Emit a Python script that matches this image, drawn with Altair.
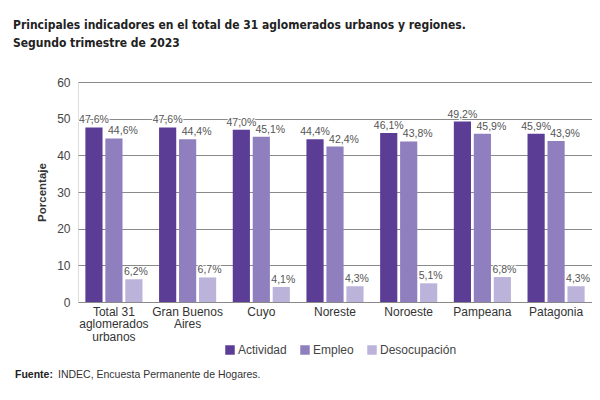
import json
import altair as alt
import pandas as pd

# ---- data ----
categories = ["Total 31 aglomerados urbanos", "Gran Buenos Aires", "Cuyo",
              "Noreste", "Noroeste", "Pampeana", "Patagonia"]
category_lines = [["Total 31", "aglomerados", "urbanos"], ["Gran Buenos", "Aires"],
                  ["Cuyo"], ["Noreste"], ["Noroeste"], ["Pampeana"], ["Patagonia"]]
series = ["Actividad", "Empleo", "Desocupación"]
actividad = [47.6, 47.6, 47.0, 44.4, 46.1, 49.2, 45.9]
empleo = [44.6, 44.4, 45.1, 42.4, 43.8, 45.9, 43.9]
desocupacion = [6.2, 6.7, 4.1, 4.3, 5.1, 6.8, 4.3]
y_ticks = [0, 10, 20, 30, 40, 50, 60]
colors = ["#5b3d96", "#8f7fbf", "#bbb3da"]
label_dx = [0, 9, 2]
title_lines = ["Principales indicadores en el total de 31 aglomerados urbanos y regiones.",
               "Segundo trimestre de 2023"]
source_bold = ["Fuente:"]
source_text = ["INDEC, Encuesta Permanente de Hogares."]

rows = []
for s, vals in zip(series, [actividad, empleo, desocupacion]):
    for c, v in zip(categories, vals):
        rows.append({"region": c, "indicador": s, "valor": v,
                     "etiqueta": f"{v:.1f}%".replace(".", ",")})
df = pd.DataFrame(rows)

label_expr = ""
for c, l in zip(categories, category_lines):
    label_expr += f"datum.value == {json.dumps(c)} ? {json.dumps(l)} : "
label_expr += "datum.value"

FONT = "Liberation Sans"

x = alt.X("region:N", sort=categories,
          scale=alt.Scale(paddingInner=0.225, paddingOuter=0.1),
          axis=alt.Axis(title=None, labelAngle=0, domain=False, ticks=False,
                        labelPadding=4, labelFontSize=12, labelLineHeight=12.5,
                        labelColor="#333333", labelExpr=label_expr, labelBaseline="top"))
xo = alt.XOffset("indicador:N", sort=series,
                 scale=alt.Scale(domain=series, paddingInner=0.14, paddingOuter=0))
y = alt.Y("valor:Q", scale=alt.Scale(domain=[0, 60]),
          axis=alt.Axis(values=y_ticks, title="Porcentaje", titleFontSize=11.5,
                        titleFontWeight="bold", titleColor="#333333", titlePadding=9,
                        domain=False, ticks=False, labelPadding=8,
                        gridColor="#8a8a8a", gridWidth=1,
                        labelColor="#444444", labelFontSize=12))
color = alt.Color("indicador:N", sort=series,
                  scale=alt.Scale(domain=series, range=colors),
                  legend=alt.Legend(title=None, orient="none", legendX=146, legendY=262,
                                    direction="horizontal", symbolType="square",
                                    symbolSize=90, symbolStrokeWidth=0, labelOffset=2,
                                    columnPadding=12, labelFontSize=12,
                                    labelColor="#444444"))

base = alt.Chart(df)
layers = [base.mark_bar().encode(x=x, xOffset=xo, y=y, color=color)]
for s, d in zip(series, label_dx):
    sub = base.transform_filter(alt.datum.indicador == s)
    layers.append(sub.mark_text(fontSize=10.5, baseline="bottom", dy=-2, dx=d,
                                color="white", stroke="white", strokeWidth=2).encode(
        x=x, xOffset=xo, y=y, text="etiqueta:N"))
    layers.append(sub.mark_text(fontSize=10.5, baseline="bottom", dy=-2, dx=d,
                                color="#555555").encode(
        x=x, xOffset=xo, y=y, text="etiqueta:N"))

layers.append(alt.Chart(pd.DataFrame({"t": source_bold})).mark_text(
    align="left", baseline="middle", fontSize=10.5, fontWeight="bold", color="#222222"
).encode(x=alt.value(-63), y=alt.value(292.5), text="t:N"))
layers.append(alt.Chart(pd.DataFrame({"t": source_text})).mark_text(
    align="left", baseline="middle", fontSize=10.5, color="#333333"
).encode(x=alt.value(-20), y=alt.value(292.5), text="t:N"))

chart = alt.layer(*layers).properties(
    width=514, height=220,
    padding={"left": 70, "top": 74, "right": 0, "bottom": 90},
    autosize=alt.AutoSizeParams(type="none"),
    title=alt.TitleParams(text=title_lines, anchor="start", frame="group", dx=-65,
                          font="DejaVu Sans Condensed, Liberation Sans",
                          fontSize=12, fontWeight="bold",
                          color="#222222", lineHeight=18, offset=26),
).configure_view(stroke=None).configure(font=FONT)

chart.save("out.html", embed_options={"renderer": "svg", "actions": False})
